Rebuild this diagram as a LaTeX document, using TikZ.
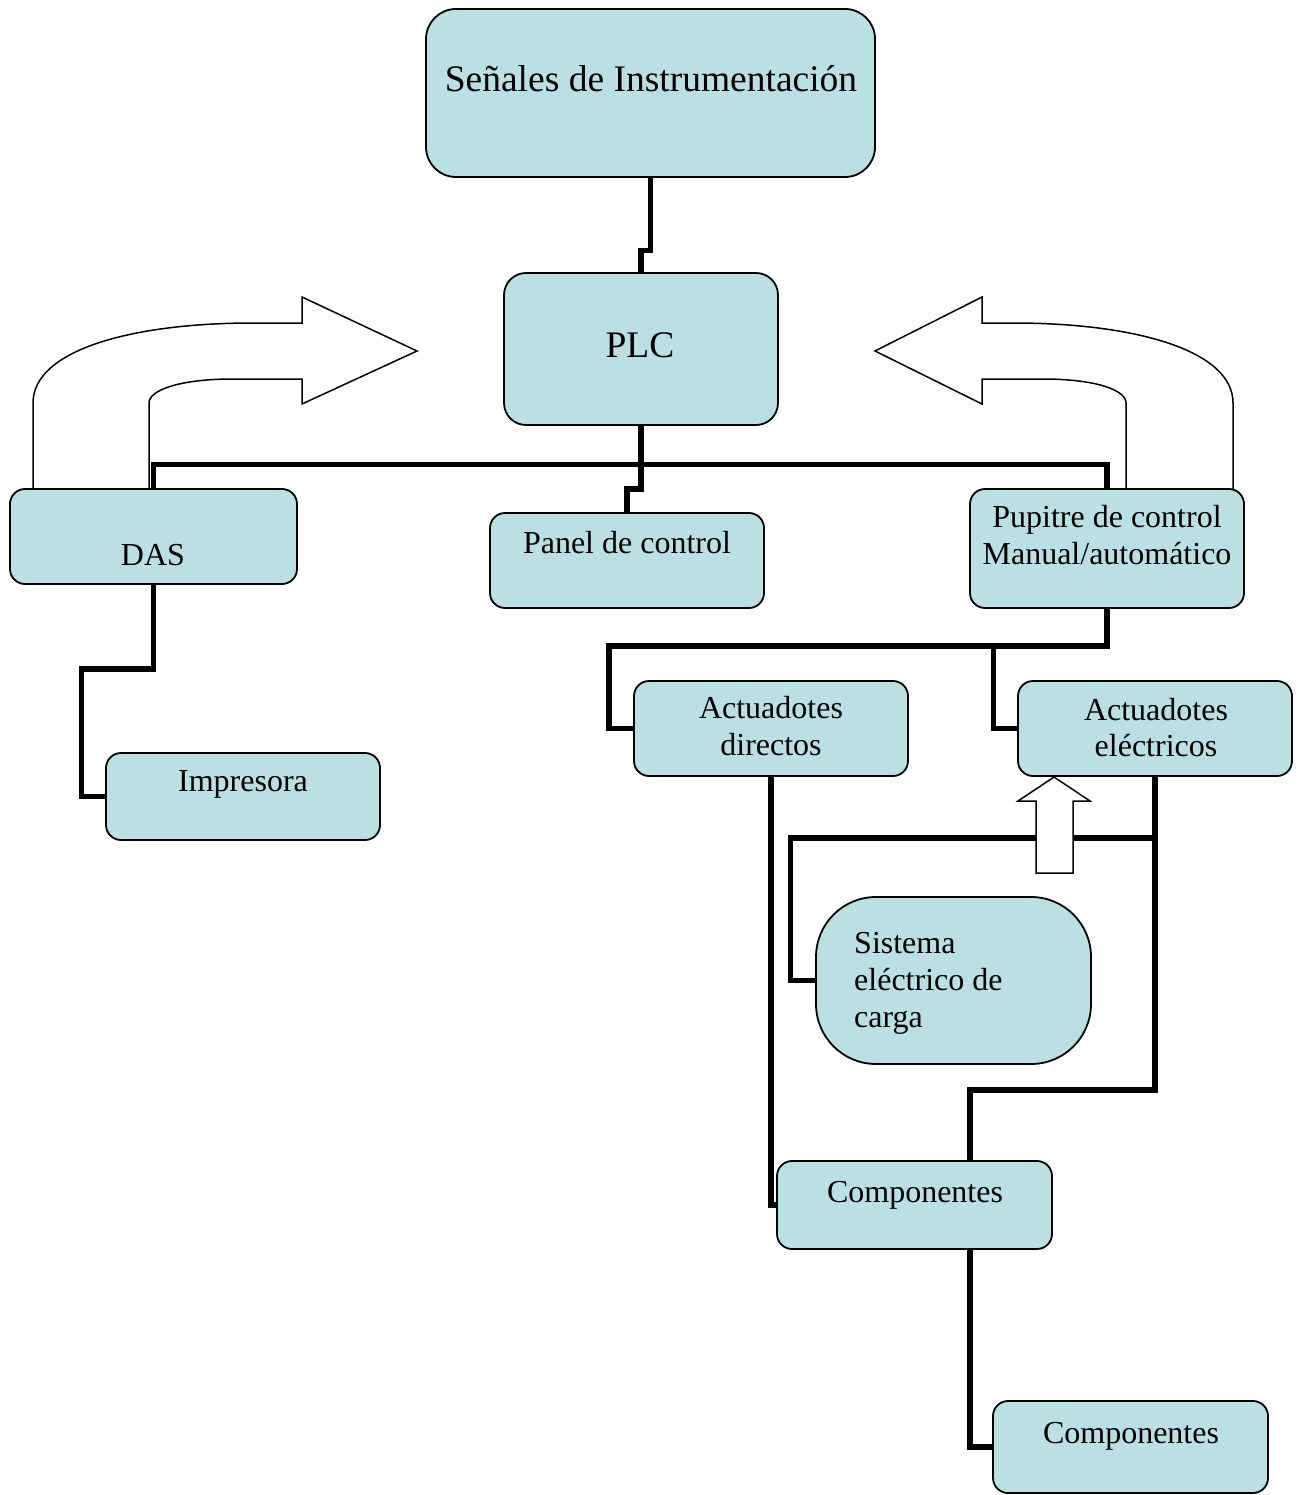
\documentclass[tikz,border=0pt]{standalone}
\usepackage{fontspec}
\setmainfont{Liberation Serif}
\usetikzlibrary{calc}
\definecolor{boxfill}{RGB}{186,224,228}
\begin{document}
\begin{tikzpicture}[x=1pt,y=-1pt,
  box/.style={draw=black, fill=boxfill, line width=1.8pt, rounded corners=15pt, inner sep=0pt},
  conn/.style={draw=black, line width=5.2pt},
  barrow/.style={draw=black, line width=1.5pt, fill=white},
  txt/.style={font=\fontsize{32}{37}\selectfont, inner sep=0pt, anchor=base},
  txtl/.style={font=\fontsize{32}{37}\selectfont, inner sep=0pt, anchor=base west},
  bigtxt/.style={font=\fontsize{37.5}{43}\selectfont, inner sep=0pt, anchor=base}]
\useasboundingbox (0,0) rectangle (1302,1495);

% curved block arrows
\draw[barrow, fill=none] (33,489) -- (33,403) .. controls (33,350) and (132,323) .. (253,323)
  -- (302,323) -- (302,297) -- (417,351) -- (302,404) -- (302,379) -- (233,379)
  .. controls (180,379) and (149,390) .. (149,403) -- (149,489);
\draw[barrow, fill=none] (1233,489) -- (1233,403) .. controls (1233,350) and (1134,323) .. (1013,323)
  -- (982,323) -- (982,297) -- (875,351) -- (982,404) -- (982,379) -- (1042,379)
  .. controls (1096,379) and (1126,390) .. (1126,403) -- (1126,489);

% boxes
\node[box, rounded corners=30pt, minimum width=449pt, minimum height=168pt] (sen) at (650.5,93) {};
\node[box, rounded corners=22pt, minimum width=274pt, minimum height=152pt] (plc) at (641,349) {};
\node[box, minimum width=287pt, minimum height=95pt] (das) at (153.5,536.5) {};
\node[box, minimum width=274pt, minimum height=95pt] (panel) at (627,560.5) {};
\node[box, minimum width=274pt, minimum height=119pt] (pup) at (1107,548.5) {};
\node[box, minimum width=274pt, minimum height=87pt] (imp) at (243,796.5) {};
\node[box, minimum width=274pt, minimum height=95pt] (ad) at (771,728.5) {};
\node[box, minimum width=274pt, minimum height=95pt] (ae) at (1155,728.5) {};
\node[box, rounded corners=60pt, minimum width=275pt, minimum height=167pt] (sis) at (953.5,980.5) {};
\node[box, minimum width=275pt, minimum height=88pt] (c1) at (914.5,1205) {};
\node[box, minimum width=275pt, minimum height=92pt] (c2) at (1130.5,1447) {};

% texts
\node[bigtxt] (tsen) at (651,92) {Señales de Instrumentación};
\node[bigtxt] (tplc) at (640,357) {PLC};
\node[txt] (tdas) at (153,565) {DAS};
\node[txt] (tpanel) at (627,553) {Panel de control};
\node[txt] (tpup1) at (1107,527) {Pupitre de control};
\node[txt] (tpup2) at (1107,564) {Manual/automático};
\node[txt] (tad1) at (771,718) {Actuadotes};
\node[txt] (tad2) at (771,755) {directos};
\node[txt] (tae1) at (1156,720) {Actuadotes};
\node[txt] (tae2) at (1156,756) {eléctricos};
\node[txt] (timp) at (243,791) {Impresora};
\node[txtl] (tsis1) at (854,953) {Sistema};
\node[txtl] (tsis2) at (854,990) {eléctrico de};
\node[txtl] (tsis3) at (854,1027) {carga};
\node[txt] (tc1) at (915,1202) {Componentes};
\node[txt] (tc2) at (1131,1443) {Componentes};

% connectors
\draw[conn] (sen.south) -- ++(0,73) -| (plc.north);
\draw[conn] (das.north) -- ++(0,-24) -| (pup.north);
\draw[conn] (plc.south) -- ++(0,63) -| (panel.north);
\draw[conn] (das.south) -- ++(0,84) -- ++(-72,0) |- (imp.west);
\draw[conn] (pup.south) -- ++(0,37) -- ++(-498,0) |- (ad.west);
\draw[conn] (ae.west) -- ++(-24,0) -- ++(0,-84);
\draw[conn] (ad.south) |- (c1.west);
\draw[conn] (ae.south) -- ++(0,313) -| ([xshift=55.5pt]c1.north);
\draw[conn] (sis.west) -- ++(-25,0) |- ($(ae.south)+(0,61)$);
\draw[conn] ([xshift=55.5pt]c1.south) |- (c2.west);

% up block arrow
\draw[barrow] (1054,777) -- (1090,801) -- (1073,801) -- (1073,873) -- (1036,873)
  -- (1036,801) -- (1018,801) -- cycle;
\end{tikzpicture}
\end{document}
